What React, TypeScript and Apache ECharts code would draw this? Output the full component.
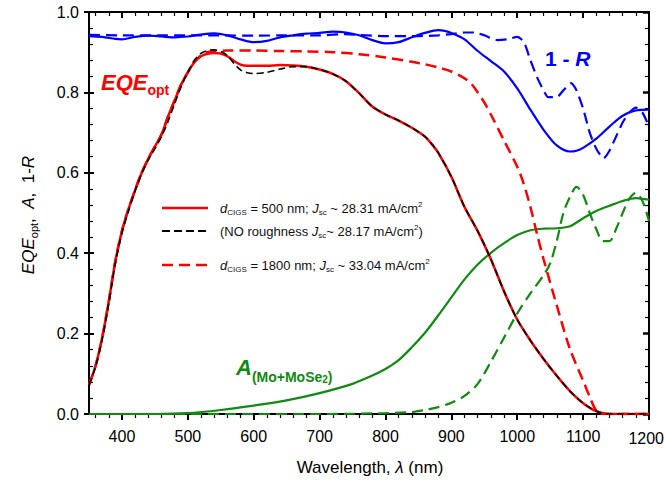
import React, { useEffect, useRef } from "react";
import * as echarts from "echarts";

const FONT = "Arial, 'Liberation Sans', Helvetica, sans-serif";

// ---- axis ticks ----
const xMajorTicks = [400, 500, 600, 700, 800, 900, 1000, 1100, 1200];
const xLabelValues = [400, 500, 600, 700, 800, 900, 1000, 1100];
const xLastLabel = "1200";
const xMinorTicks: number[] = [];
for (let v = 360; v < 1200; v += 20) if (v % 100 !== 0) xMinorTicks.push(v);

// ---- EQE, d_CIGS = 500 nm (red solid) ----
const wlEqe500 = [350, 360, 370, 380, 390, 400, 410, 420, 430, 440, 450, 460, 470, 480, 490, 500, 510, 520, 530, 540, 550, 560, 570, 580, 590, 600, 620, 640, 660, 680, 700, 720, 740, 760, 780, 800, 820, 840, 860, 870, 880, 900, 920, 940, 960, 980, 1000, 1020, 1040, 1060, 1080, 1100, 1120, 1140, 1160, 1200];
const eqe500 = [0.072, 0.12, 0.19, 0.28, 0.38, 0.455, 0.51, 0.557, 0.6, 0.635, 0.665, 0.695, 0.74, 0.78, 0.82, 0.85, 0.875, 0.89, 0.896, 0.898, 0.897, 0.89, 0.878, 0.869, 0.866, 0.866, 0.866, 0.868, 0.867, 0.864, 0.857, 0.846, 0.828, 0.798, 0.765, 0.745, 0.73, 0.712, 0.69, 0.672, 0.65, 0.59, 0.515, 0.455, 0.385, 0.305, 0.235, 0.183, 0.137, 0.095, 0.057, 0.027, 0.007, 0, 0, 0];

// ---- EQE, no roughness (black dashed) ----
const eqeNoRough = [0.072, 0.118, 0.185, 0.275, 0.375, 0.45, 0.505, 0.555, 0.598, 0.632, 0.66, 0.69, 0.728, 0.772, 0.815, 0.85, 0.88, 0.897, 0.904, 0.906, 0.902, 0.892, 0.872, 0.856, 0.849, 0.847, 0.85, 0.858, 0.864, 0.864, 0.857, 0.846, 0.828, 0.798, 0.765, 0.745, 0.73, 0.712, 0.69, 0.672, 0.65, 0.59, 0.515, 0.455, 0.385, 0.305, 0.235, 0.183, 0.137, 0.095, 0.057, 0.027, 0.007, 0, 0, 0];

// ---- EQE, d_CIGS = 1800 nm (red dashed) ----
const wlEqe1800 = [350, 360, 370, 380, 390, 400, 410, 420, 430, 440, 450, 460, 470, 480, 490, 500, 510, 520, 530, 540, 560, 600, 640, 680, 720, 760, 800, 840, 860, 880, 900, 920, 930, 940, 950, 960, 980, 1000, 1010, 1020, 1030, 1040, 1060, 1080, 1100, 1110, 1120, 1130, 1160, 1200];
const eqe1800 = [0.072, 0.12, 0.19, 0.28, 0.38, 0.455, 0.51, 0.557, 0.6, 0.635, 0.665, 0.695, 0.74, 0.78, 0.82, 0.85, 0.876, 0.892, 0.9, 0.903, 0.904, 0.904, 0.903, 0.902, 0.9, 0.895, 0.887, 0.876, 0.87, 0.862, 0.852, 0.835, 0.822, 0.8, 0.775, 0.745, 0.68, 0.615, 0.572, 0.515, 0.448, 0.385, 0.27, 0.162, 0.083, 0.043, 0.008, 0, 0, 0];

// ---- 1 - R, 500 nm (blue solid) ----
const wlR500 = [350, 370, 390, 400, 420, 440, 460, 480, 500, 520, 540, 560, 580, 600, 620, 640, 660, 680, 700, 720, 740, 760, 780, 800, 820, 840, 860, 880, 890, 900, 920, 940, 960, 980, 1000, 1020, 1040, 1060, 1080, 1090, 1100, 1120, 1140, 1160, 1180, 1200];
const oneMinusR500 = [0.94, 0.938, 0.933, 0.932, 0.938, 0.941, 0.939, 0.937, 0.939, 0.944, 0.947, 0.942, 0.932, 0.925, 0.928, 0.937, 0.942, 0.946, 0.948, 0.951, 0.949, 0.942, 0.93, 0.922, 0.925, 0.937, 0.948, 0.955, 0.953, 0.948, 0.932, 0.903, 0.878, 0.852, 0.81, 0.757, 0.707, 0.668, 0.653, 0.655, 0.662, 0.685, 0.715, 0.742, 0.755, 0.757];

// ---- 1 - R, 1800 nm (blue dashed) ----
const wlR1800 = [350, 400, 450, 500, 550, 600, 650, 700, 740, 760, 800, 850, 880, 900, 920, 935, 950, 970, 985, 1000, 1010, 1020, 1030, 1040, 1047, 1060, 1070, 1082, 1090, 1100, 1110, 1120, 1131, 1140, 1150, 1160, 1170, 1180, 1190, 1200];
const oneMinusR1800 = [0.943, 0.942, 0.942, 0.942, 0.942, 0.941, 0.942, 0.942, 0.945, 0.943, 0.94, 0.94, 0.942, 0.945, 0.949, 0.949, 0.942, 0.93, 0.932, 0.938, 0.926, 0.88, 0.838, 0.805, 0.788, 0.788, 0.805, 0.823, 0.805, 0.76, 0.7, 0.66, 0.636, 0.655, 0.69, 0.725, 0.75, 0.762, 0.75, 0.715];

// ---- A(Mo+MoSe2), 500 nm (green solid) ----
const wlA500 = [350, 400, 450, 500, 550, 600, 650, 700, 750, 775, 800, 820, 840, 860, 880, 900, 920, 940, 960, 980, 1000, 1020, 1040, 1060, 1080, 1100, 1120, 1140, 1160, 1180, 1200];
const a500 = [0, 0, 0, 0.002, 0.01, 0.021, 0.034, 0.052, 0.075, 0.092, 0.112, 0.134, 0.166, 0.202, 0.245, 0.29, 0.335, 0.372, 0.401, 0.425, 0.445, 0.457, 0.461, 0.462, 0.467, 0.487, 0.505, 0.518, 0.53, 0.537, 0.533];

// ---- A(Mo+MoSe2), 1800 nm (green dashed) ----
const wlA1800 = [350, 500, 600, 700, 800, 840, 860, 880, 900, 920, 940, 960, 980, 1000, 1020, 1040, 1050, 1060, 1070, 1080, 1090, 1100, 1110, 1120, 1130, 1140, 1150, 1160, 1170, 1180, 1190, 1200];
const a1800 = [0, 0, 0, 0, 0.002, 0.005, 0.01, 0.017, 0.028, 0.045, 0.075, 0.13, 0.19, 0.25, 0.3, 0.345, 0.375, 0.43, 0.5, 0.54, 0.565, 0.545, 0.5, 0.46, 0.43, 0.43, 0.46, 0.5, 0.535, 0.55, 0.53, 0.48];

const RED = "#ff0000";
const BLUE = "#0000ff";
const GREEN = "#108a10";
const BLACK = "#000000";

const zip = (xs: number[], ys: number[]) => xs.map((x, i) => [x, ys[i]]);

const mkLine = (name: string, xs: number[], ys: number[], color: string, width: number, dash: any, smooth = 0.3) => ({
  type: "line",
  name,
  data: zip(xs, ys),
  xAxisIndex: 0,
  yAxisIndex: 0,
  showSymbol: false,
  symbol: "none",
  smooth,
  silent: true,
  lineStyle: { color, width, type: dash },
});

const legendRich = {
  n: { fontSize: 13, fontFamily: FONT, fill: "#111", lineHeight: 16 },
  i: { fontSize: 13, fontFamily: FONT, fontStyle: "italic", fill: "#111", lineHeight: 16 },
  sub: { fontSize: 8, fontFamily: FONT, fill: "#111", lineHeight: 6, verticalAlign: "bottom" },
  sup: { fontSize: 8, fontFamily: FONT, fill: "#111", lineHeight: 6, verticalAlign: "top" },
};

const legendItems = [
  { y: 208, color: RED, dash: null as any, width: 2.5, text: "{i|d}{sub|CIGS}{n| = 500 nm; }{i|J}{sub|sc}{n| ~ 28.31 mA/cm}{sup|2}" },
  { y: 231, color: BLACK, dash: [8, 4], width: 1.8, text: "{n|(NO roughness }{i|J}{sub|sc}{n|~ 28.17 mA/cm}{sup|2}{n|)}" },
  { y: 265, color: RED, dash: [11, 6], width: 2.5, text: "{i|d}{sub|CIGS}{n| = 1800 nm; }{i|J}{sub|sc}{n| ~ 33.04 mA/cm}{sup|2}" },
];

const graphics: any[] = [];
legendItems.forEach((it) => {
  graphics.push({
    type: "line",
    silent: true,
    shape: { x1: 162, y1: it.y, x2: 208, y2: it.y },
    style: { stroke: it.color, lineWidth: it.width, lineDash: it.dash || undefined },
  });
  graphics.push({
    type: "text",
    silent: true,
    x: 220,
    y: it.y,
    style: { text: it.text, rich: legendRich, align: "left", verticalAlign: "middle", fontFamily: FONT, fontSize: 13, fill: "#111" },
  });
});

// EQE_opt annotation
graphics.push({
  type: "text",
  silent: true,
  x: 101,
  y: 82,
  style: {
    text: "{m|EQE}{s|opt}",
    align: "left",
    verticalAlign: "middle",
    rich: {
      m: { fontSize: 22, fontWeight: "bold", fontStyle: "italic", fontFamily: FONT, fill: RED, lineHeight: 30 },
      s: { fontSize: 14, fontWeight: "bold", fontFamily: FONT, fill: RED, lineHeight: 12, verticalAlign: "bottom" },
    },
  },
});

// 1 - R annotation
graphics.push({
  type: "text",
  silent: true,
  x: 545,
  y: 58,
  style: {
    text: "{m|1 - }{i|R}",
    align: "left",
    verticalAlign: "middle",
    rich: {
      m: { fontSize: 21, fontWeight: "bold", fontFamily: FONT, fill: BLUE },
      i: { fontSize: 21, fontWeight: "bold", fontStyle: "italic", fontFamily: FONT, fill: BLUE },
    },
  },
});

// A(Mo+MoSe2) annotation
graphics.push({
  type: "text",
  silent: true,
  x: 236,
  y: 367,
  style: {
    text: "{m|A}{s|(Mo+MoSe}{ss|2}{s|)}",
    align: "left",
    verticalAlign: "middle",
    rich: {
      m: { fontSize: 22, fontWeight: "bold", fontStyle: "italic", fontFamily: FONT, fill: GREEN, lineHeight: 34 },
      s: { fontSize: 14, fontWeight: "bold", fontFamily: FONT, fill: GREEN, lineHeight: 16, verticalAlign: "bottom" },
      ss: { fontSize: 10, fontWeight: "bold", fontFamily: FONT, fill: GREEN, lineHeight: 6, verticalAlign: "bottom" },
    },
  },
});

// Y-axis title
graphics.push({
  type: "text",
  silent: true,
  x: 28,
  y: 215,
  rotation: Math.PI / 2,
  style: {
    text: "{i|EQE}{s|opt}{n|,  }{i|A}{n|,  1-}{i|R}",
    align: "center",
    verticalAlign: "middle",
    rich: {
      n: { fontSize: 17, fontFamily: FONT, fill: "#000", lineHeight: 22 },
      i: { fontSize: 17, fontFamily: FONT, fontStyle: "italic", fill: "#000", lineHeight: 22 },
      s: { fontSize: 11, fontFamily: FONT, fill: "#000", lineHeight: 10, verticalAlign: "bottom" },
    },
  },
});

// X-axis title
graphics.push({
  type: "text",
  silent: true,
  x: 370,
  y: 467,
  style: {
    text: "{n|Wavelength, }{i|λ}{n| (nm)}",
    align: "center",
    verticalAlign: "middle",
    rich: {
      n: { fontSize: 17, fontFamily: FONT, fill: "#000" },
      i: { fontSize: 17, fontFamily: FONT, fontStyle: "italic", fill: "#000" },
    },
  },
});

// last x tick label, pulled inside the page edge
graphics.push({
  type: "text",
  silent: true,
  x: 664,
  y: 438,
  style: { text: xLastLabel, align: "right", verticalAlign: "middle", fontSize: 16, fontFamily: FONT, fill: "#000" },
});

const axisLineStyle = { color: "#000", width: 2 };

const option: any = {
  animation: false,
  backgroundColor: "#ffffff",
  grid: { left: 89, right: 16, top: 12, bottom: 75, containLabel: false, outerBoundsMode: "none" },
  xAxis: [
    {
      type: "value", min: 350, max: 1200, position: "bottom",
      axisLine: { show: true, onZero: false, lineStyle: axisLineStyle },
      axisTick: { show: true, inside: false, length: 6, customValues: xMajorTicks, lineStyle: { color: "#000", width: 2 } },
      axisLabel: { show: true, customValues: xLabelValues, margin: 14, fontSize: 16, color: "#000", fontFamily: FONT, formatter: (v: number) => String(v) },
      splitLine: { show: false },
    },
    {
      type: "value", min: 350, max: 1200, position: "bottom",
      axisLine: { show: false, onZero: false },
      axisTick: { show: true, inside: false, length: 4, customValues: xMinorTicks, lineStyle: { color: "#000", width: 1.2 } },
      axisLabel: { show: false },
      splitLine: { show: false },
    },
    {
      type: "value", min: 350, max: 1200, position: "top",
      axisLine: { show: true, onZero: false, lineStyle: axisLineStyle },
      axisTick: { show: true, inside: true, length: 6, customValues: xMajorTicks, lineStyle: { color: "#000", width: 2 } },
      axisLabel: { show: false },
      splitLine: { show: false },
    },
    {
      type: "value", min: 350, max: 1200, position: "top",
      axisLine: { show: false, onZero: false },
      axisTick: { show: true, inside: true, length: 4, customValues: xMinorTicks, lineStyle: { color: "#000", width: 1.2 } },
      axisLabel: { show: false },
      splitLine: { show: false },
    },
  ],
  yAxis: [
    {
      type: "value", min: 0, max: 1, interval: 0.2, position: "left",
      axisLine: { show: true, onZero: false, lineStyle: axisLineStyle },
      axisTick: { show: true, inside: false, length: 5, lineStyle: { color: "#000", width: 2 } },
      axisLabel: { show: true, margin: 10, fontSize: 16, color: "#000", fontFamily: FONT, formatter: (v: number) => v.toFixed(1) },
      splitLine: { show: false },
    },
    {
      type: "value", min: 0, max: 1, interval: 0.2, position: "left",
      axisLine: { show: false, onZero: false },
      axisTick: { show: true, inside: true, length: 5, lineStyle: { color: "#000", width: 2 } },
      minorTick: { show: true, splitNumber: 5, length: 4, lineStyle: { color: "#000", width: 1.2 } },
      axisLabel: { show: false },
      splitLine: { show: false },
    },
    {
      type: "value", min: 0, max: 1, interval: 0.2, position: "right",
      axisLine: { show: true, onZero: false, lineStyle: axisLineStyle },
      axisTick: { show: true, inside: true, length: 6, lineStyle: { color: "#000", width: 2.5 } },
      minorTick: { show: true, splitNumber: 5, length: 4, lineStyle: { color: "#000", width: 1.2 } },
      axisLabel: { show: false },
      splitLine: { show: false },
    },
  ],
  series: [
    mkLine("A 1800", wlA1800, a1800, GREEN, 2.2, [11, 6]),
    mkLine("A 500", wlA500, a500, GREEN, 2.2, "solid"),
    mkLine("1-R 1800", wlR1800, oneMinusR1800, BLUE, 2.2, [11, 6], 0.2),
    mkLine("1-R 500", wlR500, oneMinusR500, BLUE, 2.2, "solid"),
    mkLine("EQE 1800", wlEqe1800, eqe1800, RED, 2.5, [11, 6]),
    mkLine("EQE 500", wlEqe500, eqe500, RED, 2.5, "solid"),
    mkLine("EQE no roughness", wlEqe500, eqeNoRough, BLACK, 1.6, [7, 4]),
  ],
  graphic: graphics,
};

export default function App() {
  const ref = useRef<HTMLDivElement>(null);
  useEffect(() => {
    if (!ref.current) return;
    document.body.style.margin = "0";
    const chart = echarts.init(ref.current, null, { renderer: "svg", width: 665, height: 489 });
    chart.setOption(option);
    return () => chart.dispose();
  }, []);
  return (
    <div
      ref={ref}
      style={{ position: "absolute", left: 0, top: 0, width: 665, height: 489, background: "#fff", overflow: "hidden" }}
    />
  );
}
